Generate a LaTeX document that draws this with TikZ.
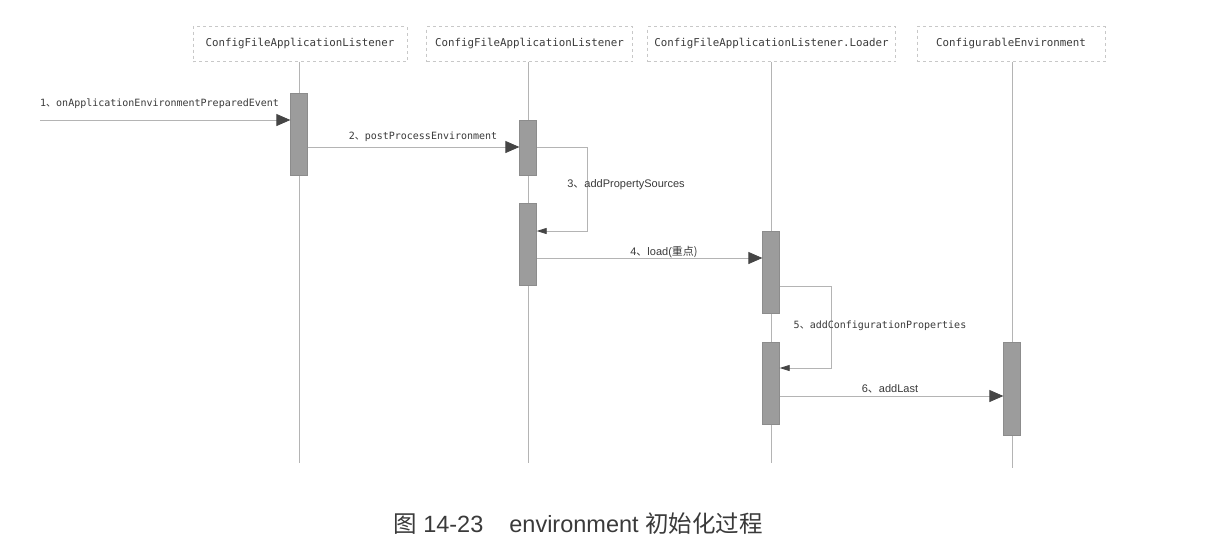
\documentclass[tikz,border=0pt]{standalone}
\usepackage{fontspec}
\setmainfont{Liberation Sans}
\newfontfamily\monof{DejaVu Sans Mono}
\newfontfamily\cjk{Noto Sans CJK SC}
\usetikzlibrary{arrows.meta}
\definecolor{lifegray}{HTML}{B4B4B4}
\definecolor{boxgray}{HTML}{C8C8C8}
\definecolor{barfill}{HTML}{9C9C9C}
\definecolor{tipgray}{HTML}{454545}
\definecolor{txtgray}{HTML}{3A3A3A}
\tikzset{
  header/.style={draw=boxgray, dashed, line width=0.6pt, minimum height=35pt, inner sep=0pt,
    font=\monof\fontsize{10.8}{12}\selectfont, text=txtgray},
  lifeline/.style={draw=lifegray, line width=0.8pt},
  actbar/.style={draw=barfill!90!black, fill=barfill, line width=0.3pt, minimum width=17pt, inner sep=0pt},
  msg/.style={draw=lifegray, line width=0.8pt, -{Triangle[length=14pt,width=12pt,fill=tipgray,color=tipgray]}},
  retmsg/.style={draw=lifegray, line width=0.8pt, -{Triangle[length=10pt,width=6pt,fill=tipgray,color=tipgray]}},
  monolbl/.style={font=\monof\fontsize{10}{12}\selectfont, text=txtgray, inner sep=0pt},
  sanslbl/.style={font=\fontsize{11}{13}\selectfont, text=txtgray, inner sep=0pt},
}
\begin{document}
\begin{tikzpicture}[x=1pt,y=-1pt]
\useasboundingbox[fill=white] (0,0) rectangle (1208,558);
% headers
\node[header, minimum width=214pt] (h1) at (300,44) {ConfigFileApplicationListener};
\node[header, minimum width=206pt] (h2) at (529.5,44) {ConfigFileApplicationListener};
\node[header, minimum width=248pt] (h3) at (771.5,44) {ConfigFileApplicationListener.Loader};
\node[header, minimum width=188pt] (h4) at (1011,44) {ConfigurableEnvironment};
% lifeline ends
\coordinate (e1) at (299,463);
\coordinate (e2) at (528,463);
\coordinate (e3) at (771,463);
\coordinate (e4) at (1012,468);
\draw[lifeline] (h1.south -| e1) -- (e1);
\draw[lifeline] (h2.south -| e2) -- (e2);
\draw[lifeline] (h3.south -| e3) -- (e3);
\draw[lifeline] (h4.south -| e4) -- (e4);
% activation bars
\node[actbar, minimum height=82pt] (b1) at (299,134) {};
\node[actbar, minimum height=55pt] (b2a) at (528,147.5) {};
\node[actbar, minimum height=82pt] (b2b) at (528,244) {};
\node[actbar, minimum height=82pt] (b3a) at (771,272) {};
\node[actbar, minimum height=82pt] (b3b) at (771,383) {};
\node[actbar, minimum height=93pt] (b4) at (1012,388.5) {};
% message 1
\coordinate (s1) at (40,120);
\draw[msg] (s1) -- (s1 -| b1.west);
\node[monolbl, anchor=base west] (l1) at (40,106) {1{\cjk 、}onApplicationEnvironmentPreparedEvent};
% message 2
\draw[msg] (b1.east |- 0,147) -- (b2a.west |- 0,147);
\node[monolbl, anchor=base] (l2) at (423,139) {2{\cjk 、}postProcessEnvironment};
% message 3 (self call)
\coordinate (c3a) at (587,147);
\coordinate (c3b) at (587,231);
\draw[retmsg] (b2a.east |- c3a) -- (c3a) -- (c3b) -- (b2b.east |- c3b);
\node[sanslbl, anchor=base] (l3) at (626,187) {3{\cjk 、}addPropertySources};
% message 4
\draw[msg] (b2b.east |- 0,258) -- (b3a.west |- 0,258);
\node[sanslbl, anchor=base] (l4) at (664,255) {4{\cjk 、}load(\cjk 重点)};
% message 5 (self call)
\coordinate (c5a) at (831,286);
\coordinate (c5b) at (831,368);
\draw[retmsg] (b3a.east |- c5a) -- (c5a) -- (c5b) -- (b3b.east |- c5b);
\node[monolbl, anchor=base] (l5) at (880,328) {5{\cjk 、}addConfigurationProperties};
% message 6
\draw[msg] (b3b.east |- 0,396) -- (b4.west |- 0,396);
\node[sanslbl, anchor=base] (l6) at (890,392) {6{\cjk 、}addLast};
% caption
\node[font=\fontsize{23.5}{27}\selectfont, text=txtgray, anchor=base, inner sep=0pt] (cap) at (578,532)
  {{\cjk 图} 14-23\hspace{26pt}environment {\cjk 初始化过程}};
\end{tikzpicture}
\end{document}
